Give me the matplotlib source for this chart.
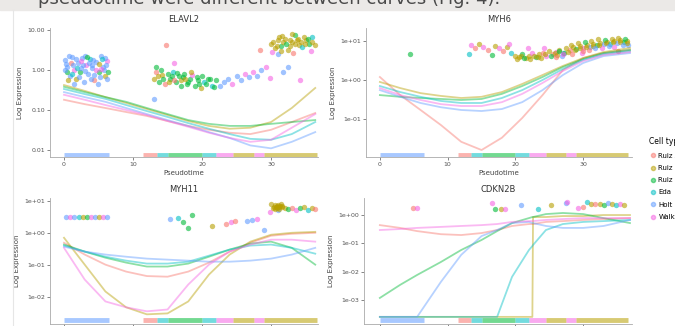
import matplotlib
matplotlib.use('Agg')
import matplotlib.pyplot as plt
from matplotlib.lines import Line2D

# Cell types and ggplot-like hue colours.
cell_types = ['Ruiz A', 'Ruiz B', 'Ruiz C', 'Eda', 'Holt', 'Walk']
type_colors = ['#F8766D', '#B79F00', '#00BA38', '#00BFC4', '#619CFF', '#F564E3']

# Cells with zero expression sit on the floor of each panel: (start, end, type).
floor_segments = [(0, 6.5, 4), (11.5, 13.5, 0), (13.5, 15, 3), (15, 20, 2), (20, 22, 3),
                  (22, 24.5, 5), (24.5, 27.5, 1), (27.5, 29, 5), (29, 36.6, 1)]

# ---- ELAVL2 ----
elavl2_pts = [(0.2, 1.8, 4), (0.5, 1.2, 4), (0.8, 0.7, 4), (1.1, 2.1, 4), (1.4, 1.0, 5), (1.7, 0.6, 1),
              (2.0, 1.5, 4), (2.3, 0.9, 2), (2.6, 2.0, 4), (2.9, 0.5, 4), (3.2, 1.3, 5), (3.5, 0.8, 4),
              (3.8, 1.9, 3), (4.1, 1.1, 4), (4.4, 0.55, 0), (4.7, 1.6, 4), (5.0, 0.9, 2), (5.3, 2.2, 4),
              (5.6, 1.2, 4), (5.9, 0.7, 1), (6.2, 1.7, 5), (0.4, 0.9, 2), (1.0, 1.5, 0), (1.9, 1.1, 3),
              (2.7, 1.3, 4), (3.6, 1.5, 4), (4.3, 0.75, 4), (5.1, 1.4, 1), (5.8, 1.0, 4), (6.3, 0.6, 4),
              (3.0, 2.3, 4), (1.5, 0.45, 4), (4.9, 0.45, 4), (0.3, 1.4, 4), (6.0, 2.0, 4),
              (0.1, 1.0, 4), (0.7, 2.3, 4), (1.2, 0.8, 3), (1.8, 1.9, 4), (2.2, 0.65, 4), (2.5, 1.7, 5),
              (3.1, 0.95, 4), (3.4, 2.1, 2), (3.9, 0.6, 4), (4.2, 1.8, 4), (4.6, 1.0, 5), (5.2, 0.65, 4),
              (5.5, 1.9, 3), (6.1, 1.3, 4), (6.4, 0.9, 2), (0.6, 0.55, 1), (2.4, 1.1, 4), (4.0, 1.35, 4),
              (5.4, 1.05, 5), (1.3, 1.3, 4),
              (13.0, 0.6, 1), (13.4, 0.9, 0), (13.8, 0.5, 2), (14.2, 0.75, 1), (14.6, 0.45, 0),
              (15.0, 0.8, 2), (15.4, 0.6, 2), (15.8, 0.9, 3), (16.2, 0.5, 2), (16.6, 0.7, 2),
              (17.0, 0.55, 1), (17.4, 0.8, 2), (17.8, 0.45, 2), (18.2, 0.6, 2), (18.6, 0.75, 5),
              (19.0, 0.4, 2), (19.4, 0.55, 2), (19.8, 0.35, 1), (20.3, 0.5, 3), (20.8, 0.6, 2),
              (21.4, 0.4, 3), (22.0, 0.55, 2), (14.8, 4.2, 0), (13.0, 0.19, 4), (16.0, 1.5, 5),
              (13.3, 1.2, 2), (15.2, 0.5, 1), (16.9, 0.4, 2),
              (14.0, 1.0, 2), (14.4, 0.6, 2), (15.6, 0.7, 2), (16.4, 0.85, 2), (17.2, 0.65, 2),
              (18.0, 0.5, 2), (18.4, 0.9, 1), (19.2, 0.65, 2), (19.6, 0.45, 2), (20.0, 0.7, 2),
              (20.6, 0.45, 2), (21.2, 0.6, 2), (21.8, 0.38, 2), (13.6, 0.7, 1), (15.9, 0.55, 0),
              (17.6, 0.6, 1),
              (22.6, 0.4, 4), (23.2, 0.5, 4), (23.8, 0.6, 4), (24.4, 0.45, 5), (25.0, 0.7, 4),
              (25.6, 0.55, 4), (26.2, 0.8, 5), (26.8, 0.65, 4), (27.4, 0.9, 5), (28.0, 0.7, 4),
              (28.6, 1.0, 4), (29.2, 1.2, 5), (29.9, 0.63, 5), (31.0, 2.5, 4), (31.8, 0.9, 4),
              (30.0, 4.5, 1), (30.5, 3.5, 1), (31.0, 5.5, 1), (31.5, 4.0, 2), (32.0, 6.0, 1),
              (32.5, 3.2, 1), (33.0, 5.0, 1), (33.5, 7.5, 2), (34.0, 4.2, 1), (34.5, 3.8, 3),
              (35.0, 5.5, 1), (35.5, 4.5, 2), (36.0, 6.5, 3), (30.2, 2.8, 5), (33.2, 2.6, 0),
              (35.8, 3.0, 5), (34.2, 0.56, 5), (32.4, 1.2, 4), (28.4, 3.2, 0), (32.8, 4.0, 1),
              (33.8, 5.5, 1), (34.8, 6.5, 1), (31.4, 3.0, 1),
              (30.3, 5.0, 1), (30.8, 4.0, 1), (31.2, 6.5, 1), (31.8, 5.0, 1), (32.2, 4.5, 2),
              (32.7, 5.5, 1), (33.4, 4.5, 1), (33.9, 6.0, 1), (34.4, 5.0, 1), (34.9, 4.5, 1),
              (35.3, 6.0, 2), (35.9, 5.0, 1), (36.3, 4.2, 1), (31.6, 7.0, 1), (33.0, 8.0, 1)]
elavl2_knots = [0, 3, 6, 9, 12, 15, 18, 21, 24, 27, 30, 33, 36.4]
elavl2_curves = [
    [0.18, 0.14, 0.112, 0.089, 0.071, 0.053, 0.040, 0.032, 0.027, 0.025, 0.032, 0.050, 0.084],
    [0.42, 0.30, 0.21, 0.15, 0.106, 0.075, 0.053, 0.040, 0.034, 0.036, 0.050, 0.112, 0.355],
    [0.38, 0.28, 0.21, 0.16, 0.112, 0.079, 0.056, 0.045, 0.040, 0.040, 0.045, 0.050, 0.056],
    [0.335, 0.25, 0.19, 0.133, 0.094, 0.067, 0.047, 0.034, 0.025, 0.019, 0.018, 0.025, 0.050],
    [0.28, 0.21, 0.16, 0.112, 0.079, 0.056, 0.040, 0.028, 0.020, 0.013, 0.011, 0.016, 0.028],
    [0.24, 0.18, 0.133, 0.10, 0.075, 0.053, 0.038, 0.027, 0.020, 0.016, 0.018, 0.036, 0.079],
]

# ---- MYH6 ----
myh6_pts = [(4.4, 4.6, 2), (13.2, 4.6, 3), (13.5, 8.0, 5), (14.0, 6.5, 0), (14.6, 8.5, 1), (15.2, 7.0, 5),
            (16.0, 6.0, 0), (16.5, 4.4, 2), (17.0, 7.5, 1), (17.6, 6.5, 5), (18.2, 5.5, 0), (18.8, 7.0, 1),
            (19.4, 5.0, 3), (20.0, 4.2, 1), (20.5, 3.8, 1), (21.0, 4.5, 2), (21.5, 3.6, 1), (22.0, 4.0, 1),
            (22.5, 4.8, 5), (23.0, 3.9, 2), (23.5, 4.5, 1), (24.0, 5.0, 0), (24.5, 4.2, 5), (25.0, 5.5, 1),
            (25.5, 4.6, 0), (26.0, 5.2, 5), (26.5, 6.0, 1), (27.0, 5.0, 4), (27.5, 6.5, 1), (28.0, 5.8, 0),
            (28.5, 7.0, 1), (29.0, 6.2, 2), (29.5, 7.5, 1), (30.0, 6.8, 5), (30.5, 8.0, 1), (31.0, 7.2, 4),
            (31.5, 8.5, 1), (32.0, 7.8, 2), (32.5, 9.0, 1), (33.0, 8.2, 4), (33.5, 9.5, 1), (34.0, 8.5, 3),
            (34.5, 10.0, 1), (35.0, 9.0, 4), (35.5, 10.5, 1), (36.0, 9.5, 2), (36.5, 10.2, 1),
            (24.2, 6.5, 5), (26.8, 4.0, 4), (29.8, 5.0, 5), (32.8, 6.5, 5), (35.2, 5.5, 0), (21.8, 6.8, 5),
            (19.0, 8.5, 5), (28.2, 8.0, 1), (29.2, 9.0, 1), (30.2, 9.5, 2), (31.2, 10.0, 1), (32.2, 11.0, 1),
            (33.2, 10.5, 2), (34.2, 11.5, 1), (35.2, 12.0, 1), (36.2, 11.5, 2), (36.6, 8.0, 4),
            (23.8, 3.6, 1), (25.2, 4.0, 2), (26.2, 4.4, 1), (27.2, 4.8, 2), (30.8, 6.0, 0), (34.6, 7.0, 5),
            (20.2, 3.5, 1), (20.8, 4.0, 1), (21.3, 3.7, 2), (22.2, 3.5, 1), (22.8, 4.2, 1), (23.3, 3.8, 1),
            (24.4, 4.6, 1), (25.8, 4.8, 1), (26.4, 5.5, 2), (27.8, 5.2, 1), (28.8, 6.0, 1), (29.6, 6.5, 1),
            (30.4, 7.0, 1), (31.4, 7.5, 1), (32.4, 8.0, 1), (33.4, 8.8, 1), (34.4, 9.2, 1), (35.4, 9.5, 1),
            (36.4, 9.0, 1), (31.8, 6.5, 4), (33.8, 7.5, 4), (35.8, 8.0, 4), (30.0, 5.5, 0), (27.0, 4.5, 5),
            (28.4, 4.6, 0), (26.0, 3.8, 0)]
myh6_knots = [0, 3, 6, 9, 12, 15, 18, 21, 24, 27, 30, 33, 36.9]
myh6_curves = [
    [1.19, 0.41, 0.17, 0.070, 0.026, 0.016, 0.033, 0.106, 0.41, 1.80, 3.66, 4.9, 5.9],
    [0.89, 0.62, 0.46, 0.39, 0.345, 0.37, 0.49, 0.79, 1.34, 2.29, 3.66, 5.2, 6.6],
    [0.41, 0.37, 0.345, 0.326, 0.307, 0.326, 0.44, 0.70, 1.19, 2.15, 3.45, 4.9, 5.9],
    [0.70, 0.49, 0.37, 0.29, 0.257, 0.257, 0.345, 0.55, 1.0, 1.91, 3.26, 4.6, 5.5],
    [0.55, 0.37, 0.257, 0.20, 0.17, 0.16, 0.18, 0.27, 0.55, 1.34, 2.73, 4.1, 4.9],
    [0.62, 0.41, 0.307, 0.24, 0.215, 0.215, 0.27, 0.44, 0.84, 1.70, 3.07, 4.4, 5.2],
]

# ---- MYH11 ----
myh11_pts = [(0.3, 3.1, 4), (0.9, 3.1, 5), (1.5, 3.0, 4), (2.1, 3.2, 3), (2.7, 3.0, 1), (3.3, 3.1, 2),
             (3.9, 3.2, 5), (4.5, 3.0, 4), (5.1, 3.1, 1), (5.7, 3.0, 5), (6.3, 3.1, 4),
             (15.3, 2.7, 4), (16.5, 2.9, 3), (17.3, 2.2, 2), (18.0, 1.4, 2), (18.6, 3.6, 2),
             (21.4, 1.6, 1), (23.5, 1.9, 0), (24.2, 2.1, 5), (24.8, 2.3, 0), (26.5, 2.3, 4),
             (27.2, 2.5, 4), (28.0, 2.7, 5), (29.0, 1.2, 4), (29.8, 4.5, 5), (30.3, 6.0, 1),
             (30.8, 6.8, 1), (31.2, 6.3, 1), (31.6, 7.0, 1), (32.0, 5.8, 1), (32.5, 5.5, 2),
             (33.0, 6.0, 0), (33.6, 5.2, 5), (34.2, 5.8, 2), (34.8, 6.2, 1), (35.4, 5.0, 3),
             (36.0, 6.0, 1), (36.4, 5.5, 0), (31.0, 5.0, 4), (30.0, 8.0, 1), (30.6, 7.5, 1),
             (31.4, 7.8, 1), (31.0, 6.5, 1), (30.5, 5.5, 1), (30.4, 6.5, 1), (30.7, 6.2, 1),
             (31.0, 7.2, 1), (31.3, 6.8, 1), (31.6, 6.2, 1), (30.9, 5.8, 1), (31.2, 5.7, 1)]
myh11_knots = [0, 3, 6, 9, 12, 15, 18, 21, 24, 27, 30, 33, 36.4]
myh11_curves = [
    [0.49, 0.21, 0.102, 0.062, 0.045, 0.043, 0.062, 0.118, 0.26, 0.49, 0.81, 0.93, 1.0],
    [0.70, 0.102, 0.0149, 0.0048, 0.0029, 0.0031, 0.0073, 0.050, 0.21, 0.53, 0.87, 1.0, 1.07],
    [0.43, 0.26, 0.168, 0.118, 0.089, 0.089, 0.110, 0.18, 0.30, 0.46, 0.53, 0.34, 0.102],
    [0.40, 0.26, 0.18, 0.136, 0.110, 0.110, 0.126, 0.194, 0.30, 0.40, 0.43, 0.34, 0.224],
    [0.37, 0.26, 0.21, 0.18, 0.157, 0.146, 0.136, 0.126, 0.126, 0.136, 0.157, 0.21, 0.34],
    [0.34, 0.035, 0.0073, 0.0048, 0.0036, 0.0041, 0.0245, 0.102, 0.26, 0.43, 0.61, 0.61, 0.53],
]

# ---- CDKN2B ----
cdkn2b_pts = [(4.9, 1.77, 0), (5.5, 1.8, 5), (16.5, 2.65, 5), (17.0, 1.6, 2), (17.8, 1.6, 1),
              (18.4, 1.7, 5), (20.8, 2.25, 4), (23.4, 1.6, 3), (25.3, 2.25, 1), (27.4, 2.6, 4),
              (27.6, 2.9, 5), (29.3, 1.8, 5), (30.0, 1.9, 0), (30.5, 2.9, 3), (31.2, 2.5, 1),
              (31.8, 2.4, 0), (32.5, 2.5, 1), (33.0, 2.3, 2), (33.6, 2.6, 4), (34.2, 2.4, 1),
              (34.8, 2.3, 3), (35.4, 2.5, 5), (36.0, 2.2, 1)]
cdkn2b_knots = [0, 3, 5.5, 9, 12, 15, 17.3, 19.5, 22, 22.5, 22.6, 24.5, 27, 30, 33, 36.9]
cdkn2b_curves = [
    [0.44, 0.35, 0.27, 0.21, 0.196, 0.23, 0.295, 0.41, 0.48, 0.48, 0.48, 0.57, 0.61, 0.67, 0.72, 0.78],
    [2.5e-4] * 10 + [0.85, 0.85, 0.92, 0.92, 1.0, 1.0],
    [0.00117, 0.0034, 0.0076, 0.0218, 0.058, 0.131, 0.27, 0.52, 0.78, 0.85, 0.85, 1.08, 1.18, 1.08, 0.78, 0.52],
    [2.5e-4] * 7 + [0.0065, 0.058, 0.080, 0.087, 0.295, 0.48, 0.57, 0.61, 0.67],
    [2.5e-4, 2.5e-4, 2.5e-4, 0.0043, 0.039, 0.18, 0.295, 0.52, 0.57, 0.52, 0.52, 0.41, 0.35, 0.35, 0.41, 0.67],
    [0.295, 0.32, 0.35, 0.38, 0.41, 0.44, 0.48, 0.57, 0.61, 0.61, 0.61, 0.67, 0.72, 0.78, 0.78, 0.78],
]

W, H = 675, 326
fig = plt.figure(figsize=(W / 100, H / 100), dpi=100)
fig.patch.set_facecolor('white')

# Grey strip with the cut-off caption of the page above the figure.
fig.patches.append(plt.Rectangle((0, 1 - 10 / H), 1, 10 / H, transform=fig.transFigure,
                                 color='#ebe9e7', zorder=0))
fig.text(38 / W, 1 - 4.5 / H, 'pseudotime were different between curves (Fig. 4).',
         fontsize=13, color='#4a4a4a', va='baseline', ha='left')
fig.add_artist(Line2D([13 / W, 13 / W], [0, 1 - 10 / H], transform=fig.transFigure,
                      color='#e6e6e6', lw=0.8))


def px_axes(left, top, right, bottom):
    return fig.add_axes([left / W, 1 - bottom / H, (right - left) / W, (bottom - top) / H])


panels = [
    dict(title='ELAVL2', rect=(50, 28, 318, 157), xlim=(-2.03, 36.8), ylim=(0.00668, 11.2),
         yticks=[10, 1, 0.1, 0.01], ylabels=['10.00', '1.00', '0.10', '0.01'], floor=0.0075,
         pts=elavl2_pts, knots=elavl2_knots, curves=elavl2_curves, bottom_row=False),
    dict(title='MYH6', rect=(366, 28, 632, 157), xlim=(-2.05, 37.2), ylim=(0.0106, 21.5),
         yticks=[10, 1, 0.1], ylabels=['1e+01', '1e+00', '1e-01'], floor=0.012,
         pts=myh6_pts, knots=myh6_knots, curves=myh6_curves, bottom_row=False),
    dict(title='MYH11', rect=(50, 198, 318, 324), xlim=(-2.03, 36.8), ylim=(0.00145, 12.1),
         yticks=[10, 1, 0.1, 0.01], ylabels=['1e+01', '1e+00', '1e-01', '1e-02'], floor=0.0019,
         pts=myh11_pts, knots=myh11_knots, curves=myh11_curves, bottom_row=True),
    dict(title='CDKN2B', rect=(364, 198, 632, 324), xlim=(-2.34, 37.2), ylim=(1.4e-4, 4.0),
         yticks=[1, 0.1, 0.01, 0.001], ylabels=['1e+00', '1e-01', '1e-02', '1e-03'], floor=2.0e-4,
         pts=cdkn2b_pts, knots=cdkn2b_knots, curves=cdkn2b_curves, bottom_row=True),
]

for p in panels:
    ax = px_axes(*p['rect'])
    ax.set_yscale('log')
    ax.set_xlim(*p['xlim'])
    ax.set_ylim(*p['ylim'])

    # Zero-expression cells along the floor.
    for t0, t1, k in floor_segments:
        ax.hlines(p['floor'], t0, t1, color=type_colors[k], lw=3.5, alpha=0.55, zorder=2)

    # Expressing cells.
    for t, v, k in p['pts']:
        ax.scatter(t, v, s=15, color=type_colors[k], alpha=0.6, lw=0, zorder=3)

    # Smoothed trends per cell type.
    for k, vals in enumerate(p['curves']):
        ax.plot(p['knots'], vals, color=type_colors[k], lw=1.3, alpha=0.45, zorder=4)

    ax.set_title(p['title'], fontsize=6, color='#333333', pad=4)
    ax.set_yticks(p['yticks'])
    ax.set_yticklabels(p['ylabels'])
    ax.minorticks_off()
    ax.set_xticks([0, 10, 20, 30])
    ax.tick_params(labelsize=4.5, colors='#555555', length=2, width=0.5, pad=1.5)
    ax.set_ylabel('Log Expression', fontsize=5, color='#444444', labelpad=3)
    if p['bottom_row']:
        # the page crops these panels just below the axis
        ax.tick_params(axis='x', labelbottom=False)
    else:
        ax.set_xlabel('Pseudotime', fontsize=5, color='#444444', labelpad=2)
    for side in ['top', 'right']:
        ax.spines[side].set_visible(False)
    for side in ['left', 'bottom']:
        ax.spines[side].set_color('#aaaaaa')
        ax.spines[side].set_linewidth(0.6)

handles = [Line2D([], [], marker='o', ls='', color=c, alpha=0.5, markersize=3) for c in type_colors]
fig.legend(handles, cell_types, title='Cell type', loc='upper left', bbox_to_anchor=(646 / W, 1 - 134 / H),
           frameon=False, fontsize=5, title_fontsize=5.5, handletextpad=0.3, labelspacing=0.9,
           borderpad=0, handlelength=1.0, alignment='left')

fig.savefig('out.png', dpi=100)
